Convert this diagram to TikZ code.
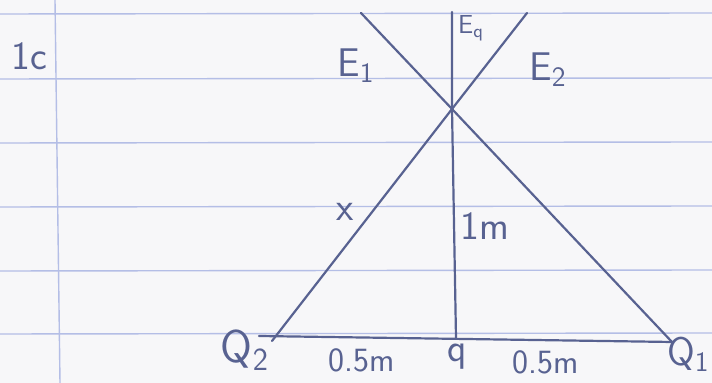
\documentclass[tikz,border=0pt]{standalone}
\usepackage{fontspec}
\definecolor{pen}{RGB}{88,98,145}
\definecolor{rule}{RGB}{180,190,230}
\definecolor{paper}{RGB}{247,247,249}
\tikzset{
  penline/.style={draw=pen, line width=1.1pt, line cap=round},
  ruleline/.style={draw=rule, line width=0.7pt},
  hand/.style={text=pen, inner sep=0pt, font=\sffamily\fontsize{20}{22}\selectfont},
  bighand/.style={hand, font=\sffamily\fontsize{23}{25}\selectfont},
  smallhand/.style={hand, font=\sffamily\fontsize{17}{19}\selectfont}
}

\begin{document}
\begin{tikzpicture}[x=0.5pt, y=-0.5pt]
\fill[paper] (0,0) rectangle (712,383);
\useasboundingbox (0,0) rectangle (712,383);

% ruled paper
\foreach \ry in {14,79,143,207,271,334}
  \draw[ruleline] (0,\ry) -- (712,\ry-1);
\draw[ruleline] (55,0) -- (60,383);

% points of the sketch
\coordinate (cross) at (452,109);
\coordinate (eonetop) at (361,13);
\coordinate (etwotop) at (527,13);
\coordinate (eqtop) at (452,12);
\coordinate (qfoot) at (456,338);
\coordinate (qtwoend) at (272,341);
\coordinate (qoneend) at (672,342);
\coordinate (basestart) at (259,336);

% lines
\draw[penline] (eonetop) -- (cross) -- (qoneend);
\draw[penline] (etwotop) -- (cross) -- (qtwoend);
\draw[penline] (eqtop) -- (cross) -- (qfoot);
\draw[penline] (basestart) -- (qoneend);

% labels
\node (qnum) [hand] at (29,56) {1c};
\node (eone) [hand] at (356,66) {E\textsubscript{1}};
\node (eq) [hand, font=\sffamily\fontsize{13}{15}\selectfont] at (471,28) {E\textsubscript{q}};
\node (etwo) [hand] at (548,70) {E\textsubscript{2}};
\node (xlab) [hand] at (345,212) {x};
\node (onem) [hand] at (485,226) {1m};
\node (qtwo) [bighand] at (245,350) {Q\textsubscript{2}};
\node (halfleft) [smallhand] at (362,360) {0.5m};
\node (qsmall) [hand] at (457,357) {q};
\node (halfright) [smallhand] at (546,362) {0.5m};
\node (qone) [hand, anchor=east] at (710,354) {Q\textsubscript{1}};
\end{tikzpicture}
\end{document}
